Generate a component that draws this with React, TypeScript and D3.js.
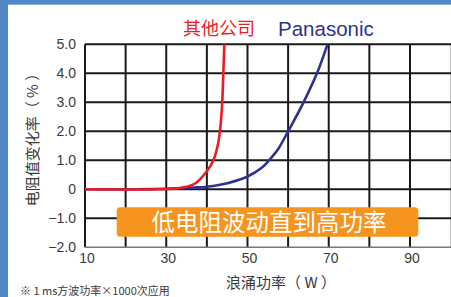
import React from "react";
import * as d3 from "d3";

const redW = [10, 30, 34, 37.1, 40, 41.6, 42.8, 43.4, 43.8, 44.05, 44.3];
const redV = [0, 0.01, 0.06, 0.2, 0.62, 1.0, 1.6, 2.25, 3.05, 4.0, 5.0];
const blueW = [10, 30, 37, 40, 45.3, 50, 53.5, 55.3, 57.6, 60, 63.8, 67.1, 69.7];
const blueV = [0, 0.02, 0.06, 0.09, 0.22, 0.44, 0.74, 1.0, 1.4, 2.0, 3.0, 4.0, 5.0];
const xTicks = [10, 30, 50, 70, 90];
const xGrid = [10, 20, 30, 40, 50, 60, 70, 80, 90, 100];
const yTicks = [5, 4, 3, 2, 1, 0, -1, -2];
const yLabels = ["5.0", "4.0", "3.0", "2.0", "1.0", "0", "\u22121.0", "\u22122.0"];

const W = 451, H = 297;
const x = d3.scaleLinear().domain([10, 100]).range([85, 450.6]);
const y = d3.scaleLinear().domain([-2, 5]).range([247.3, 44.3]);

const line = d3
  .line<[number, number]>()
  .x((d) => x(d[0]))
  .y((d) => y(d[1]))
  .curve(d3.curveCatmullRom.alpha(0.5));

const redPts = redW.map((w, i) => [w, redV[i]] as [number, number]);
const bluePts = blueW.map((w, i) => [w, blueV[i]] as [number, number]);

const latin = "'Liberation Sans', Arial, sans-serif";
const cjk = "'Noto Sans CJK SC', 'Liberation Sans', sans-serif";

export default function App() {
  return (
    <svg
      width={W}
      height={H}
      style={{ position: "absolute", left: 0, top: 0, display: "block" }}
    >
      <rect x={0} y={0} width={W} height={H} fill="#ffffff" />
      <rect x={0} y={0} width={W} height={4.7} fill="#5288C7" />
      <rect x={0} y={0} width={8} height={H} fill="#5288C7" />

      {/* grid */}
      {xGrid.map((v) => (
        <line
          key={"gx" + v}
          x1={x(v)}
          x2={x(v)}
          y1={y(5)}
          y2={y(-2)}
          stroke={v === 100 ? "#bbb" : "#1a1a1a"}
          strokeWidth={v === 100 ? 1 : 2}
        />
      ))}
      {yTicks.map((v) => (
        <line
          key={"gy" + v}
          x1={x(10)}
          x2={W}
          y1={y(v)}
          y2={y(v)}
          stroke={v === -2 ? "#777" : "#1a1a1a"}
          strokeWidth={v === -2 ? 1.5 : 2}
        />
      ))}

      {/* curves */}
      <path d={line(bluePts) || ""} fill="none" stroke="#2E3192" strokeWidth={2.6} />
      <path d={line(redPts) || ""} fill="none" stroke="#ED1C24" strokeWidth={2.6} />

      {/* y tick labels */}
      {yTicks.map((v, i) => (
        <text
          key={"yl" + v}
          x={76}
          y={y(v) + 5}
          textAnchor="end"
          fontFamily={latin}
          fontSize={14}
          fill="#3a3a3a"
        >
          {yLabels[i]}
        </text>
      ))}
      {/* x tick labels */}
      {xTicks.map((v) => (
        <text
          key={"xl" + v}
          x={x(v) + 2}
          y={262.7}
          textAnchor="middle"
          fontFamily={latin}
          fontSize={14}
          fill="#3a3a3a"
        >
          {v}
        </text>
      ))}

      {/* axis titles */}
      <text
        x={281}
        y={288}
        textAnchor="middle"
        fontFamily={cjk}
        fontSize={15}
        fill="#3a3a3a"
      >
        浪涌功率（ W ）
      </text>
      <text
        transform={`translate(38,136) rotate(-90)`}
        textAnchor="middle"
        fontFamily={cjk}
        fontSize={15}
        fill="#3a3a3a"
      >
        电阻值变化率（ % ）
      </text>

      {/* legend labels */}
      <text x={183} y={35} fontFamily={cjk} fontSize={18} fill="#ED1C24">
        其他公司
      </text>
      <text x={278} y={35.5} fontFamily={latin} fontSize={20.5} fill="#2E3192">
        Panasonic
      </text>

      {/* orange banner */}
      <rect x={116.7} y={207.3} width={301.6} height={29.4} rx={3.5} fill="#F7941D" />
      <text
        x={269}
        y={230.5}
        textAnchor="middle"
        fontFamily={cjk}
        fontSize={23.5}
        fill="#ffffff"
      >
        低电阻波动直到高功率
      </text>

      {/* footnote */}
      <text x={20} y={295} fontFamily={cjk} fontSize={11} fill="#3a3a3a">
        ※ 1 ms方波功率×1000次应用
      </text>
    </svg>
  );
}
